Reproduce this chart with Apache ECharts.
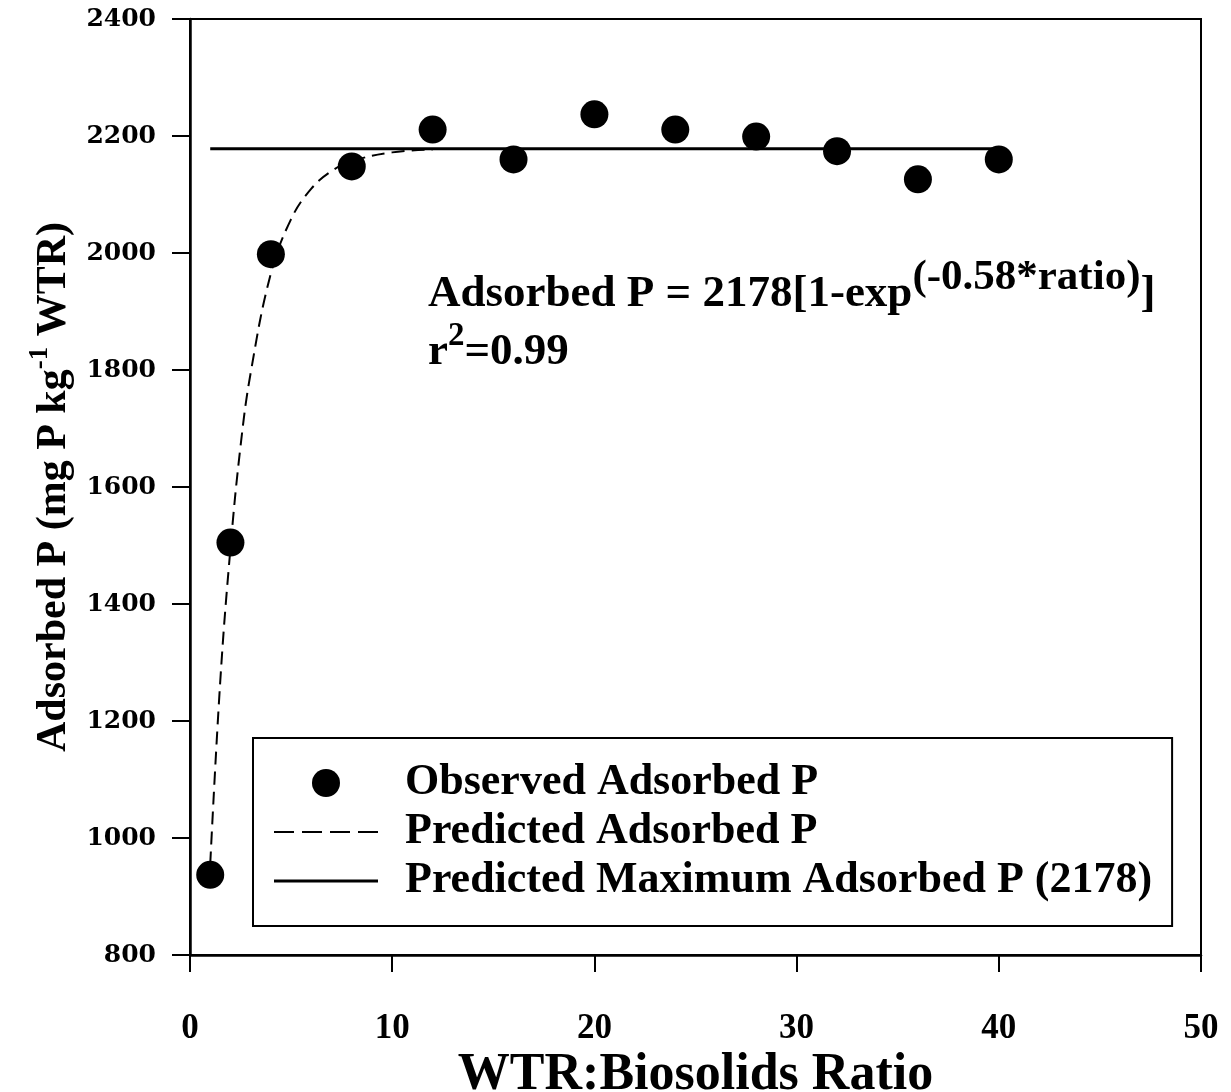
<!DOCTYPE html>
<html>
<head>
<meta charset="utf-8">
<script src="https://cdn.jsdelivr.net/npm/echarts@6/dist/echarts.min.js"></script>
<style>
 html,body{margin:0;padding:0;background:#fff;}
 #chart{width:1231px;height:1092px;}
</style>
</head>
<body>
<div id="chart"></div>
<script>
 // observed points
 var ratioObs=[1,2,4,8,12,16,20,24,28,32,36,40];
 var adsorbedObs=[937,1505,1998,2148,2211,2160,2237,2211,2199,2174,2126,2160];
 // predicted curve
 var ratioPred=[1,1.5,2,2.5,3,4,5,6,7,8,10,12];
 var adsorbedPred=[955,1270,1495,1670,1795,1965,2058,2110,2140,2157,2172,2177];
 // predicted maximum
 var ratioMax=[1,40];
 var adsorbedMax=[2178,2178];
 var xTicks=[0,10,20,30,40,50];
 var yTicks=[800,1000,1200,1400,1600,1800,2000,2200,2400];

 function pairs(xs,ys){
	 var out=[];
	 for(var i=0;i<xs.length;i++){
		 out.push([xs[i],ys[i]]);
	 }
	 return out;
 }

 var serif='"Liberation Serif","Times New Roman",serif';
 // legend icons: dashes / solid bar (line legend of echarts always adds a dot)
 var dashIcon='path://M0,0h20v2h-20z M28,0h20v2h-20z M56,0h20v2h-20z M84,0h20v2h-20z';
 var solidIcon='path://M0,0h104v3h-104z';

 var myChart=echarts.init(document.getElementById('chart'));

 var option={
	 backgroundColor:'#fff',
	 animation:false,
	 grid:{
		 left:190,right:30,top:19,bottom:137,
		 outerBoundsMode:'none',
		 show:true,borderColor:'#000',borderWidth:2
	 },
	 xAxis:{
		 type:'value',
		 min:xTicks[0],max:xTicks[xTicks.length-1],interval:10,
		 name:'WTR:Biosolids Ratio',
		 nameLocation:'middle',
		 nameMoveOverlap:false,
		 nameGap:95,
		 nameTextStyle:{fontFamily:serif,fontWeight:'bold',fontSize:52,color:'#000'},
		 axisLine:{lineStyle:{color:'#000',width:2.5}},
		 axisTick:{inside:false,length:17,lineStyle:{color:'#000',width:2}},
		 axisLabel:{margin:56,fontFamily:serif,fontWeight:'bold',fontSize:35,color:'#000'},
		 splitLine:{show:false}
	 },
	 yAxis:{
		 type:'value',
		 min:yTicks[0],max:yTicks[yTicks.length-1],interval:200,
		 name:'{m|Adsorbed P (mg P kg}{s|-1}{m| WTR)}',
		 nameLocation:'middle',
		 nameRotate:90,
		 nameGap:112,
		 nameTextStyle:{
			 color:'#000',
			 rich:{
				 m:{fontFamily:serif,fontWeight:'bold',fontSize:42,lineHeight:44,verticalAlign:'bottom',color:'#000'},
				 s:{fontFamily:serif,fontWeight:'bold',fontSize:27,lineHeight:28,padding:[0,0,22,0],verticalAlign:'bottom',color:'#000'}
			 }
		 },
		 axisLine:{lineStyle:{color:'#000',width:2.5}},
		 axisTick:{inside:false,length:18,lineStyle:{color:'#000',width:2}},
		 axisLabel:{
			 margin:34,fontFamily:'"DejaVu Serif",serif',fontWeight:'bold',fontSize:25,color:'#000',
			 formatter:function(v){return String(v);}
		 },
		 splitLine:{show:false}
	 },
	 legend:{
		 orient:'vertical',
		 left:253,top:738,
		 padding:[23,20,23,21],
		 borderColor:'#000',borderWidth:2,
		 backgroundColor:'#fff',
		 itemWidth:104,itemHeight:28,itemGap:5,
		 textStyle:{fontFamily:serif,fontWeight:'bold',fontSize:44,color:'#000',padding:[0,0,0,22]},
		 data:[
			 {name:'Observed Adsorbed P',icon:'circle'},
			 {name:'Predicted Adsorbed P',icon:dashIcon},
			 {name:'Predicted Maximum Adsorbed P (2178)',icon:solidIcon}
		 ]
	 },
	 graphic:[
		 {
			 type:'text',left:428,top:256,
			 style:{
				 text:'{a|Adsorbed P = 2178[1-exp}{s|(-0.58*ratio)}{a|]}',
				 rich:{
					 a:{fontFamily:serif,fontWeight:'bold',fontSize:45,lineHeight:48,verticalAlign:'bottom',fill:'#000'},
					 s:{fontFamily:serif,fontWeight:'bold',fontSize:43,lineHeight:46,padding:[0,0,18,0],verticalAlign:'bottom',fill:'#000'}
				 }
			 }
		 },
		 {
			 type:'text',left:428,top:320,
			 style:{
				 text:'{a|r}{s|2}{a|=0.99}',
				 rich:{
					 a:{fontFamily:serif,fontWeight:'bold',fontSize:45,lineHeight:48,verticalAlign:'bottom',fill:'#000'},
					 s:{fontFamily:serif,fontWeight:'bold',fontSize:33,lineHeight:34,padding:[0,0,22,0],verticalAlign:'bottom',fill:'#000'}
				 }
			 }
		 }
	 ],
	 series:[
		 {
			 name:'Observed Adsorbed P',
			 type:'scatter',
			 data:pairs(ratioObs,adsorbedObs),
			 symbol:'circle',symbolSize:28,
			 itemStyle:{color:'#000',opacity:1},
			 z:5
		 },
		 {
			 name:'Predicted Adsorbed P',
			 type:'line',
			 data:pairs(ratioPred,adsorbedPred),
			 smooth:0.4,
			 symbol:'none',showSymbol:false,
			 lineStyle:{color:'#000',width:2,type:[13,7]},
			 itemStyle:{color:'#000'},
			 z:3
		 },
		 {
			 name:'Predicted Maximum Adsorbed P (2178)',
			 type:'line',
			 data:pairs(ratioMax,adsorbedMax),
			 symbol:'none',showSymbol:false,
			 lineStyle:{color:'#000',width:3,type:'solid'},
			 itemStyle:{color:'#000'},
			 z:3
		 }
	 ]
 };

 myChart.setOption(option);
</script>
</body>
</html>
